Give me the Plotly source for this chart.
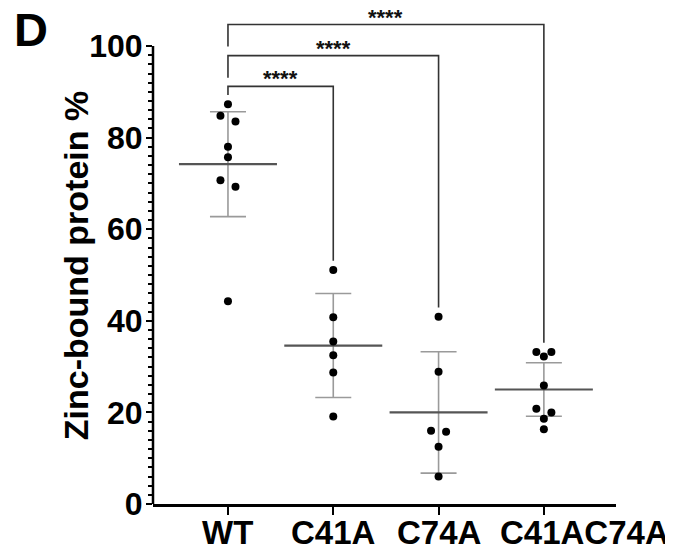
import numpy as np
import plotly.graph_objects as go

categories = ["WT", "C41A", "C74A", "C41AC74A"]
wt = [87.3, 84.8, 83.5, 78.0, 75.7, 70.7, 69.3, 44.3]
c41a = [51.1, 40.8, 35.5, 32.5, 28.7, 19.1]
c74a = [40.9, 28.9, 16.0, 15.8, 12.5, 6.0]
c41ac74a = [33.2, 33.2, 32.2, 25.9, 20.8, 20.0, 18.6, 16.3]
means = [74.2, 34.6, 20.0, 25.0]
sds = [11.45, 11.35, 13.25, 5.85]
y_ticks = [0, 20, 40, 60, 80, 100]
# significance comparisons: (group a, group b, bracket height, label)
comparisons = [(0, 1, 91.2, "****"), (0, 2, 97.9, "****"), (0, 3, 104.7, "****")]

groups = [wt, c41a, c74a, c41ac74a]

FONT = "Liberation Sans, Arial, Helvetica"
JIT = 0.0714  # horizontal spread unit (x axis units)


def jitter(vals, gap=2.0):
    order = sorted(range(len(vals)), key=lambda i: -vals[i])
    clusters, cur = [], [order[0]]
    for i in order[1:]:
        if vals[cur[-1]] - vals[i] < gap:
            cur.append(i)
        else:
            clusters.append(cur)
            cur = [i]
    clusters.append(cur)
    off = [0.0] * len(vals)
    for c in clusters:
        if len(c) == 2:
            off[c[0]], off[c[1]] = -1, 1
        elif len(c) == 3:
            off[c[0]], off[c[1]], off[c[2]] = -1, 1, 0
    return off


fig = go.Figure()

# SD error bars
fig.add_trace(go.Scatter(
    x=list(range(len(categories))), y=means, mode="markers",
    marker=dict(size=1, color="rgba(0,0,0,0)"),
    error_y=dict(type="data", array=sds, symmetric=True, width=18,
                 thickness=1.6, color="#9a9a9a"),
    showlegend=False, hoverinfo="skip"))

# mean lines
fig.add_trace(go.Scatter(
    x=list(range(len(categories))), y=means, mode="markers",
    marker=dict(symbol="line-ew", size=70, line=dict(width=2.2, color="#555555")),
    showlegend=False, hoverinfo="skip"))

# significance brackets
for a, b, h, lab in comparisons:
    left_bottom = max(max(groups[a]) + 2.0, h - 4.8)
    right_bottom = max(groups[b]) + 2.0
    fig.add_trace(go.Scatter(
        x=[a, a, b, b], y=[left_bottom, h, h, right_bottom], mode="lines",
        line=dict(color="#333333", width=1.6), showlegend=False, hoverinfo="skip"))
    fig.add_annotation(x=(a + b) / 2, y=h, text="<b>" + lab + "</b>",
                       showarrow=False, xanchor="center", yanchor="bottom", yshift=-7,
                       font=dict(family=FONT, size=22, color="#111111"))

# data points
for k, vals in enumerate(groups):
    off = jitter(vals)
    fig.add_trace(go.Scatter(
        x=[k + o * JIT for o in off], y=vals, mode="markers",
        marker=dict(size=8, color="black"), showlegend=False))

# y axis line (0 to 100 only)
fig.add_shape(type="line", xref="paper", yref="y", x0=0, x1=0, y0=0, y1=100,
              line=dict(color="black", width=2.5))

minor_vals = [v for v in range(2, 100, 2) if v % 20 != 0]

fig.update_layout(
    width=673, height=552,
    margin=dict(l=145, r=65, t=6, b=56),
    plot_bgcolor="white", paper_bgcolor="white",
    font=dict(family=FONT, color="black"),
    xaxis=dict(range=[-0.712, 3.685], tickmode="array",
               tickvals=list(range(len(categories))), ticktext=[""] * len(categories),
               showline=True, linecolor="black", linewidth=2.5,
               ticks="outside", ticklen=8, tickwidth=2, tickcolor="black",
               showgrid=False, zeroline=False, automargin=False),
    yaxis=dict(range=[0, 107], tickmode="array", tickvals=y_ticks,
               ticktext=["<b>%d</b>" % v for v in y_ticks],
               showline=False, ticks="outside", ticklen=6, tickwidth=2,
               ticklabelstandoff=-3,
               tickcolor="black", showgrid=False, zeroline=False, automargin=False,
               tickfont=dict(family=FONT, size=32, color="black"),
               minor=dict(tickmode="array", tickvals=minor_vals, ticks="outside",
                          ticklen=4, tickwidth=1.5, tickcolor="black", showgrid=False)),
)

# category labels (last label sits right of its tick, as in the original)
for k, c in enumerate(categories):
    fig.add_annotation(x=k, y=0, yref="y", text="<b>%s</b>" % c, showarrow=False,
                       xanchor="center", yanchor="top", yshift=-8,
                       xshift=41 if k == len(categories) - 1 else 0,
                       font=dict(family=FONT, size=33, color="black"))

fig.add_annotation(xref="paper", yref="y", x=-0.1656, y=52, text="<b>Zinc-bound protein %</b>",
                   textangle=-90, showarrow=False, xanchor="center", yanchor="middle",
                   font=dict(family=FONT, size=34, color="black"))
fig.add_annotation(xref="paper", yref="paper", x=-0.2636, y=0.968, text="<b>D</b>",
                   showarrow=False, xanchor="center", yanchor="middle",
                   font=dict(family=FONT, size=47, color="black"))

fig.write_html("out.html")
